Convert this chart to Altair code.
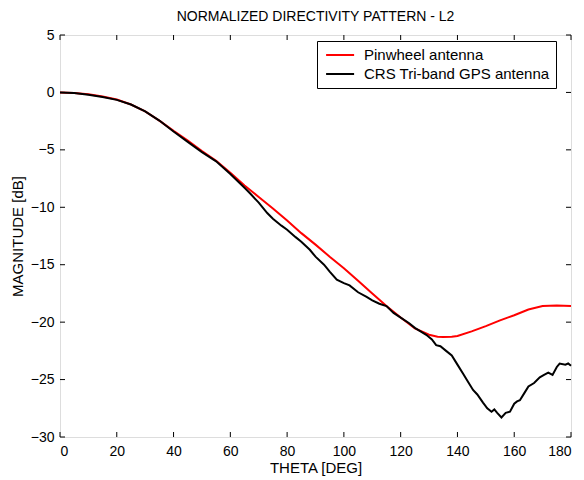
import altair as alt
import pandas as pd

series_names = ["Pinwheel antenna", "CRS Tri-band GPS antenna"]
series_colors = ["#ff0000", "#000000"]

pin_theta = [0, 5, 10, 15, 20, 25, 30, 35, 40, 45, 50, 55, 60, 65, 70, 75, 80, 85, 90,
             95, 100, 105, 110, 115, 120, 125, 130, 133, 135, 138, 140, 145, 150, 155,
             160, 165, 170, 175, 180]
pin_mag = [0.0, -0.05, -0.15, -0.35, -0.62, -1.05, -1.65, -2.45, -3.35, -4.2, -5.1, -5.95,
           -7.0, -8.1, -9.1, -10.1, -11.15, -12.25, -13.25, -14.3, -15.3, -16.4, -17.5,
           -18.6, -19.6, -20.55, -21.1, -21.27, -21.3, -21.27, -21.2, -20.8, -20.35,
           -19.85, -19.4, -18.9, -18.6, -18.55, -18.6]

crs_theta = [0, 5, 10, 15, 20, 25, 30, 35, 40, 45, 50, 55, 60, 65, 67, 70, 73, 75, 78,
             80, 83, 85, 88, 90, 93, 95, 97.5, 100, 102, 105, 108, 110, 112.5, 115,
             117.5, 120, 123, 125, 127, 129, 131, 132.5, 134, 136, 138, 140, 142, 143.5,
             145.5, 147, 149, 150.5, 152, 153, 154, 155.5, 157, 158.5, 160, 161, 162,
             163.5, 165, 167, 169, 170.5, 172, 173.5, 175, 176, 178, 179, 180]
crs_mag = [0.0, -0.05, -0.2, -0.4, -0.65, -1.05, -1.65, -2.45, -3.4, -4.3, -5.2, -6.0,
           -7.1, -8.3, -8.8, -9.6, -10.5, -11.0, -11.6, -11.95, -12.6, -13.0, -13.7,
           -14.3, -15.0, -15.6, -16.3, -16.6, -16.8, -17.4, -17.8, -18.1, -18.4, -18.6,
           -19.2, -19.6, -20.1, -20.5, -20.8, -21.1, -21.5, -22.0, -22.1, -22.5, -22.9,
           -23.7, -24.5, -25.1, -25.9, -26.3, -27.0, -27.5, -27.8, -27.6, -27.9, -28.3,
           -27.9, -27.8, -27.1, -26.9, -26.8, -26.2, -25.6, -25.3, -24.8, -24.6, -24.4,
           -24.6, -23.9, -23.6, -23.7, -23.6, -23.8]

x_ticks = [0, 20, 40, 60, 80, 100, 120, 140, 160, 180]
y_ticks = [-30, -25, -20, -15, -10, -5, 0, 5]

W, H = 511, 402
FONT = "Liberation Sans"

df = pd.concat([
    pd.DataFrame({"theta": pin_theta, "mag": pin_mag, "series": series_names[0]}),
    pd.DataFrame({"theta": crs_theta, "mag": crs_mag, "series": series_names[1]}),
])
xt = pd.DataFrame({"t": x_ticks})
yt = pd.DataFrame({"t": y_ticks})

xscale = alt.Scale(domain=[0, 180], nice=False, zero=False)
yscale = alt.Scale(domain=[-30, 5], nice=False, zero=False)

color = alt.Color(
    "series:N",
    scale=alt.Scale(domain=series_names, range=series_colors),
    legend=alt.Legend(
        title=None, orient="none", legendX=257, legendY=6,
        strokeColor="black", fillColor="white", padding=6,
        symbolType="M-0.7,0H3.3", symbolStrokeWidth=2, symbolSize=196,
        labelFontSize=15, labelFont=FONT, labelColor="black",
        rowPadding=3, labelOffset=25, labelLimit=500,
    ),
)

base = alt.Chart(df)
x_enc = alt.X("theta:Q", scale=xscale, axis=alt.Axis(
    title="THETA [DEG]", values=x_ticks, ticks=False, domain=False, grid=False,
    labelPadding=7, titlePadding=2, labelFontSize=14, titleFontSize=15,
    labelFont=FONT, titleFont=FONT, titleFontWeight="normal",
    labelColor="black", titleColor="black"))
y_enc = alt.Y("mag:Q", scale=yscale, axis=alt.Axis(
    title="MAGNITUDE [dB]", values=y_ticks, ticks=False, domain=False, grid=False,
    labelPadding=6, titlePadding=5, labelFontSize=14, titleFontSize=15,
    labelFont=FONT, titleFont=FONT, titleFontWeight="normal",
    labelColor="black", titleColor="black"))

red = base.transform_filter(alt.datum.series == series_names[0]).mark_line(
    strokeWidth=2).encode(x=x_enc, y=y_enc, color=color)
black = base.transform_filter(alt.datum.series == series_names[1]).mark_line(
    strokeWidth=2).encode(x=alt.X("theta:Q", scale=xscale), y=alt.Y("mag:Q", scale=yscale), color=color)

tick_style = dict(color="black", strokeWidth=1)
bt = alt.Chart(xt).mark_rule(**tick_style).encode(
    x=alt.X("t:Q", scale=xscale), y=alt.value(H), y2=alt.value(H - 5))
tt = alt.Chart(xt).mark_rule(**tick_style).encode(
    x=alt.X("t:Q", scale=xscale), y=alt.value(0), y2=alt.value(5))
lt = alt.Chart(yt).mark_rule(**tick_style).encode(
    y=alt.Y("t:Q", scale=yscale), x=alt.value(0), x2=alt.value(5))
rt = alt.Chart(yt).mark_rule(**tick_style).encode(
    y=alt.Y("t:Q", scale=yscale), x=alt.value(W), x2=alt.value(W - 5))

chart = alt.layer(red, black, bt, tt, lt, rt).properties(
    width=W, height=H,
    title=alt.TitleParams("NORMALIZED DIRECTIVITY PATTERN - L2", fontSize=14,
                          fontWeight="normal", font=FONT, color="black",
                          anchor="middle", offset=4),
    autosize="none",
    padding={"left": 52, "top": 27, "right": 5, "bottom": 40},
).configure_view(stroke="black", strokeWidth=1).configure(background="white")

chart.save("out.html", embed_options={"renderer": "svg", "actions": False})
